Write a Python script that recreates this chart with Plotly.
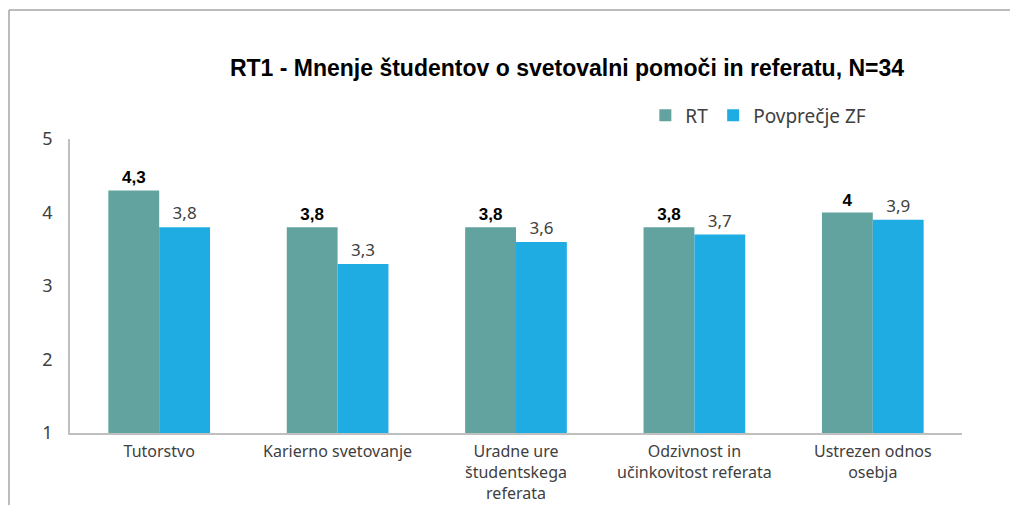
import plotly.graph_objects as go

categories = [
    "Tutorstvo",
    "Karierno svetovanje",
    "Uradne ure<br>študentskega<br>referata",
    "Odzivnost in<br>učinkovitost referata",
    "Ustrezen odnos<br>osebja",
]
rt_values = [4.3, 3.8, 3.8, 3.8, 4.0]
zf_values = [3.8, 3.3, 3.6, 3.7, 3.9]
series_names = ["RT", "Povprečje ZF"]
y_ticks = [1, 2, 3, 4, 5]


def fmt(v):
    # Slovenian decimal comma, drop trailing .0
    s = f"{v:g}"
    return s.replace(".", ",")


FONT = "Noto Sans"
TEXT_GRAY = "#404040"

# page body has an 8px margin on every side, keep the figure inside the window
W, H = 1002, 497
L, T, PW, PH = 62, 131, 892, 294

fig = go.Figure()
fig.add_trace(go.Bar(
    x=categories, y=rt_values, name=series_names[0],
    marker=dict(color="#63A39F", line=dict(width=0)),
    text=[f"<b>{fmt(v)}</b>" for v in rt_values],
    textposition="outside", cliponaxis=False,
    textfont=dict(family="Liberation Sans", size=17, color="#000000"),
))
fig.add_trace(go.Bar(
    x=categories, y=zf_values, name=series_names[1],
    marker=dict(color="#1FACE3", line=dict(width=0)),
    text=[fmt(v) for v in zf_values],
    textposition="outside", cliponaxis=False,
    textfont=dict(family=FONT, size=17, color=TEXT_GRAY),
))

# chart frame: only the left and top edges show, the rest is cropped off
fx0 = (1 - L) / PW
fx1 = (W - L) / PW
fy0 = (T + PH - H) / PH
fy1 = (T + PH - 2) / PH
frame = dict(color="#A6A6A6", width=1.5)

fig.update_layout(
    width=W, height=H,
    margin=dict(l=L, r=W - L - PW, t=T, b=H - T - PH, autoexpand=False),
    paper_bgcolor="white", plot_bgcolor="white",
    barmode="group", bargap=0.43, bargroupgap=0,
    font=dict(family=FONT, size=16, color=TEXT_GRAY),
    title=dict(
        text="<b>RT1 - Mnenje študentov o svetovalni pomoči in referatu, N=34</b>",
        x=559 / W, xanchor="center", y=1 - 60 / H, yanchor="middle",
        font=dict(family="Liberation Sans", size=23, color="#000000"),
    ),
    legend=dict(
        orientation="h", x=0.645, xanchor="left", y=1.08, yanchor="middle",
        font=dict(family=FONT, size=19, color=TEXT_GRAY),
        traceorder="normal", itemwidth=30,
    ),
    xaxis=dict(
        showline=True, linecolor="#BFBFBF", linewidth=1.5, automargin=False,
        ticks="", showgrid=False, tickfont=dict(size=16, color=TEXT_GRAY),
        tickangle=0, ticklabelstandoff=3,
    ),
    yaxis=dict(
        range=[1, 5], tickvals=y_ticks, showline=True, linecolor="#BFBFBF",
        linewidth=1.5, showgrid=False, zeroline=False, ticks="", automargin=False,
        tickfont=dict(size=18, color=TEXT_GRAY), ticklabelstandoff=12,
    ),
    shapes=[
        dict(type="line", xref="paper", yref="paper",
             x0=fx0, x1=fx0, y0=fy0, y1=fy1, line=frame, layer="below"),
        dict(type="line", xref="paper", yref="paper",
             x0=fx0, x1=fx1, y0=fy1, y1=fy1, line=frame, layer="below"),
    ],
)

fig.write_html("out.html")
